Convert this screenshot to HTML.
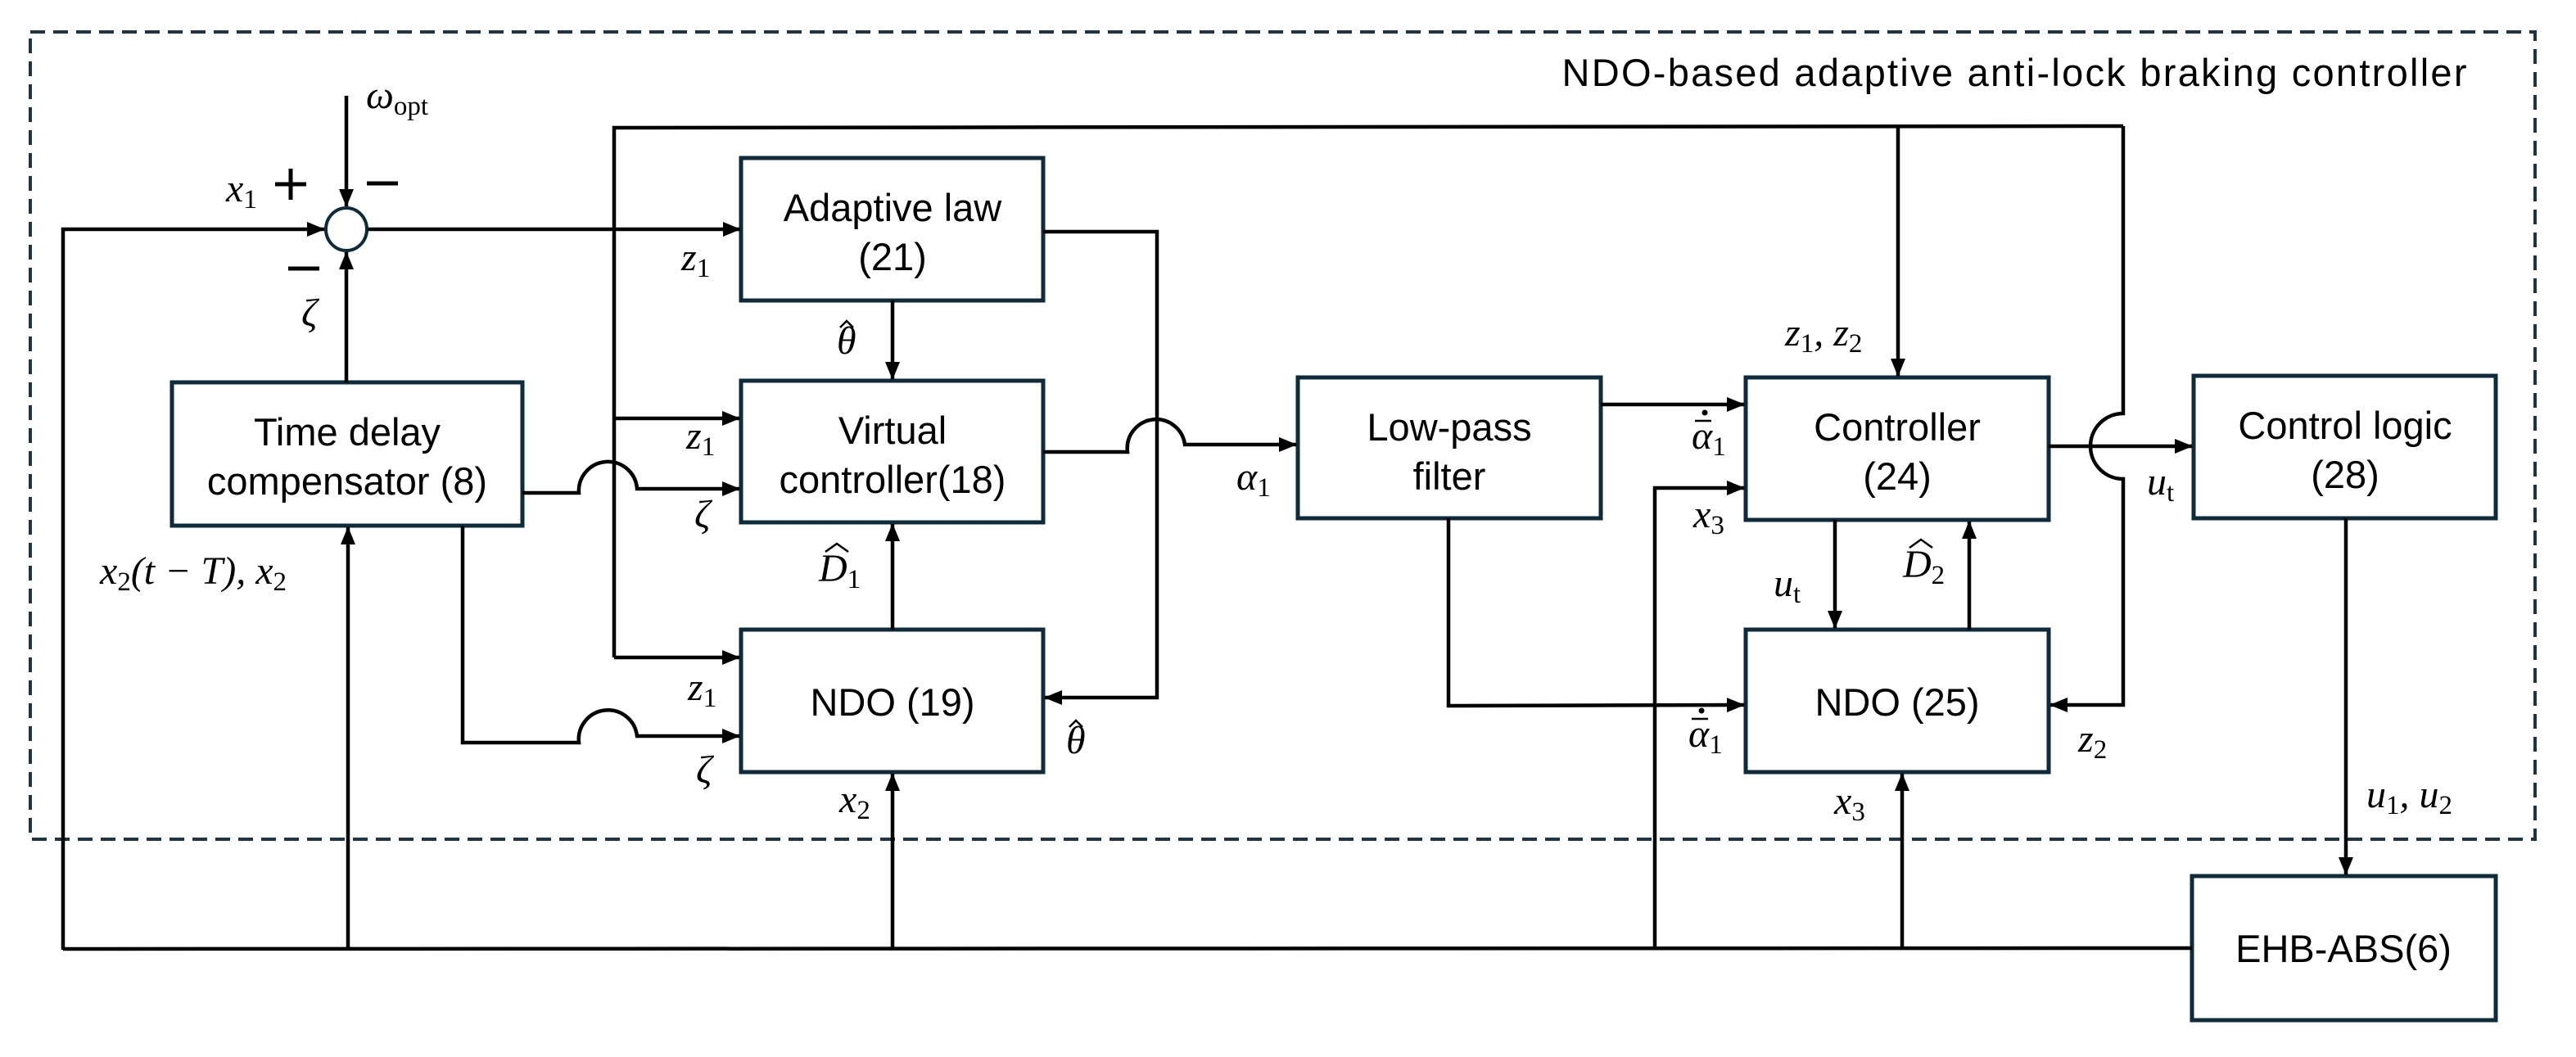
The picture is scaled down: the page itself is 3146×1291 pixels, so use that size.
<!DOCTYPE html>
<html><head><meta charset="utf-8"><style>
html,body{margin:0;padding:0;background:#fff;}
svg{display:block;}
.bx{fill:#fff;stroke:#0f2a38;stroke-width:5;}
.ln{fill:none;stroke:#000;stroke-width:4.5;}
.t{font-family:"Liberation Sans",sans-serif;font-size:47px;fill:#000;text-anchor:middle;}
.m{font-family:"Liberation Serif",serif;font-style:italic;font-size:48px;fill:#000;}
.s{font-style:normal;font-size:33px;}
.h{fill:none;stroke:#000;stroke-width:2.5;}
</style></head><body>
<svg width="3146" height="1291" viewBox="0 0 3146 1291" xmlns="http://www.w3.org/2000/svg">
<defs>
<marker id="a" markerWidth="22" markerHeight="18" refX="21" refY="9" orient="auto" markerUnits="userSpaceOnUse">
<path d="M0,0 L22,9 L0,18 z" fill="#000"/></marker>
</defs>
<rect x="37" y="39" width="3059" height="986" fill="none" stroke="#1f3440" stroke-width="4" stroke-dasharray="18,10"/>
<text class="t" x="2460" y="105" textLength="1105">NDO-based adaptive anti-lock braking controller</text>

<rect class="bx" x="905" y="193" width="369" height="174"/>
<text class="t" x="1090" y="270">Adaptive law</text><text class="t" x="1090" y="330">(21)</text>
<rect class="bx" x="905" y="465" width="369" height="173"/>
<text class="t" x="1090" y="542">Virtual</text><text class="t" x="1090" y="602">controller(18)</text>
<rect class="bx" x="905" y="769" width="369" height="174"/>
<text class="t" x="1090" y="874">NDO (19)</text>
<rect class="bx" x="210" y="467" width="428" height="175"/>
<text class="t" x="424" y="544">Time delay</text><text class="t" x="424" y="604">compensator (8)</text>
<rect class="bx" x="1585" y="461" width="370" height="172"/>
<text class="t" x="1770" y="538">Low-pass</text><text class="t" x="1770" y="598">filter</text>
<rect class="bx" x="2132" y="461" width="370" height="174"/>
<text class="t" x="2317" y="538">Controller</text><text class="t" x="2317" y="598">(24)</text>
<rect class="bx" x="2132" y="769" width="370" height="174"/>
<text class="t" x="2317" y="874">NDO (25)</text>
<rect class="bx" x="2679" y="459" width="369" height="174"/>
<text class="t" x="2864" y="536">Control logic</text><text class="t" x="2864" y="596">(28)</text>
<rect class="bx" x="2677" y="1070" width="371" height="176"/>
<text class="t" x="2862" y="1175">EHB-ABS(6)</text>

<ellipse cx="423" cy="280" rx="25" ry="26" fill="#fff" stroke="#0f2a38" stroke-width="4"/>
<path class="ln" d="M423,117 L423,252" marker-end="url(#a)"/>
<path class="ln" d="M77,1160 L77,280 L396,280" marker-end="url(#a)"/>
<path class="ln" d="M449,280 L904,280" marker-end="url(#a)"/>
<path class="ln" d="M423,467 L423,308" marker-end="url(#a)"/>
<path class="ln" d="M77,1159 L2677,1158"/>
<path class="ln" d="M425,1159 L425,644" marker-end="url(#a)"/>
<path class="ln" d="M1090,1159 L1090,945" marker-end="url(#a)"/>
<path class="ln" d="M2323,1158 L2323,945" marker-end="url(#a)"/>
<path class="ln" d="M2021,1158 L2021,596 L2130,596" marker-end="url(#a)"/>
<path class="ln" d="M750,803 L750,156 L2593,154"/>
<path class="ln" d="M750,511 L903,511" marker-end="url(#a)"/>
<path class="ln" d="M750,803 L903,803" marker-end="url(#a)"/>
<path class="ln" d="M2318,154 L2318,459" marker-end="url(#a)"/>
<path class="ln" d="M2593,154 L2593,505 A40,40 0 0 0 2593,585 L2593,861 L2504,861" marker-end="url(#a)"/>
<path class="ln" d="M638,602 L707,602 A35,35 0 0 1 778,597 L903,597" marker-end="url(#a)"/>
<path class="ln" d="M565,642 L565,907 L707,907 A35,35 0 0 1 778,899 L903,899" marker-end="url(#a)"/>
<path class="ln" d="M1090,367 L1090,463" marker-end="url(#a)"/>
<path class="ln" d="M1274,283 L1413,283 L1413,852 L1276,852" marker-end="url(#a)"/>
<path class="ln" d="M1090,769 L1090,640" marker-end="url(#a)"/>
<path class="ln" d="M1274,552 L1377,552 A35,35 0 0 1 1447,543 L1583,543" marker-end="url(#a)"/>
<path class="ln" d="M1955,494 L2130,494" marker-end="url(#a)"/>
<path class="ln" d="M1769,633 L1769,862 L2130,861" marker-end="url(#a)"/>
<path class="ln" d="M2241,635 L2241,767" marker-end="url(#a)"/>
<path class="ln" d="M2405,769 L2405,637" marker-end="url(#a)"/>
<path class="ln" d="M2502,545 L2677,545" marker-end="url(#a)"/>
<path class="ln" d="M2865,633 L2865,1068" marker-end="url(#a)"/>

<text class="m" x="447" y="132">ω<tspan class="s" dy="8">opt</tspan></text>
<text class="m" x="276" y="246">x<tspan class="s" dy="8">1</tspan></text>
<path class="ln" d="M336,225 L374,225 M355,206 L355,244" style="stroke-width:5"/>
<path class="ln" d="M448,224 L486,224" style="stroke-width:5"/>
<path class="ln" d="M352,328 L390,328" style="stroke-width:5"/>
<text class="m" x="368" y="398">ζ</text>
<text class="m" x="832" y="330">z<tspan class="s" dy="8">1</tspan></text>
<text class="m" x="1022" y="432">θ</text><path class="h" d="M1026,400 L1034,392 L1042,400"/>
<text class="m" x="838" y="548">z<tspan class="s" dy="8">1</tspan></text>
<text class="m" x="848" y="644">ζ</text>
<text class="m" x="122" y="713">x<tspan class="s" dy="8">2</tspan><tspan dy="-8">(t − T), x</tspan><tspan class="s" dy="8">2</tspan></text>
<text class="m" x="1000" y="710">D<tspan class="s" dy="8">1</tspan></text><path class="h" d="M1008,674 L1022,664 L1036,674"/>
<text class="m" x="840" y="855">z<tspan class="s" dy="8">1</tspan></text>
<text class="m" x="850" y="956">ζ</text>
<text class="m" x="1302" y="920">θ</text><path class="h" d="M1306,888 L1314,880 L1322,888"/>
<text class="m" x="1025" y="992">x<tspan class="s" dy="8">2</tspan></text>
<text class="m" x="1510" y="598">α<tspan class="s" dy="8">1</tspan></text>
<text class="m" x="2180" y="422">z<tspan class="s" dy="8">1</tspan><tspan dy="-8">, z</tspan><tspan class="s" dy="8">2</tspan></text>
<text class="m" x="2066" y="548">α<tspan class="s" dy="8">1</tspan></text><path class="h" d="M2070,514 L2090,514"/><circle cx="2082" cy="504" r="3.5"/>
<text class="m" x="2068" y="644">x<tspan class="s" dy="8">3</tspan></text>
<text class="m" x="2166" y="728">u<tspan class="s" dy="8">t</tspan></text>
<text class="m" x="2324" y="705">D<tspan class="s" dy="8">2</tspan></text><path class="h" d="M2332,669 L2346,659 L2360,669"/>
<text class="m" x="2622" y="604">u<tspan class="s" dy="8">t</tspan></text>
<text class="m" x="2062" y="912">α<tspan class="s" dy="8">1</tspan></text><path class="h" d="M2066,878 L2086,878"/><circle cx="2078" cy="868" r="3.5"/>
<text class="m" x="2538" y="918">z<tspan class="s" dy="8">2</tspan></text>
<text class="m" x="2240" y="994">x<tspan class="s" dy="8">3</tspan></text>
<text class="m" x="2890" y="986">u<tspan class="s" dy="8">1</tspan><tspan dy="-8">, u</tspan><tspan class="s" dy="8">2</tspan></text>
</svg>
</body></html>
